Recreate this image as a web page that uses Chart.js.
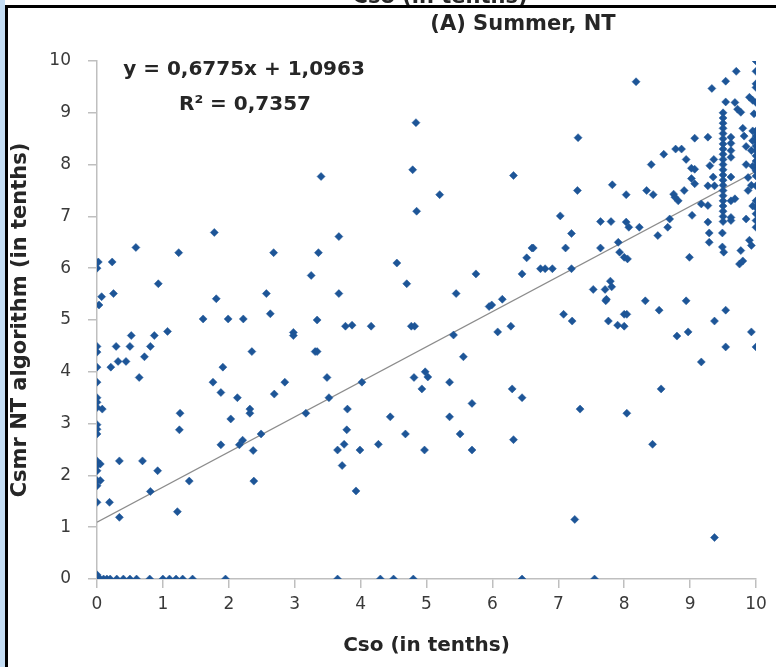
<!DOCTYPE html>
<html>
<head>
<meta charset="utf-8">
<script src="https://cdn.jsdelivr.net/npm/chart.js@4.4.0/dist/chart.umd.min.js"></script>
<style>
  html, body { margin: 0; padding: 0; background: #fff; overflow: hidden; }
  #quadro { position: relative; width: 776px; height: 667px; }
  canvas { display: block; }
  .faixa { position: absolute; left: 0; top: 0; width: 5px; height: 667px; background: #c4ddf4; }
  .linhaEsq { position: absolute; left: 5px; top: 5px; width: 3px; height: 662px; background: #000; }
  .linhaTopo { position: absolute; left: 5px; top: 5px; width: 771px; height: 3px; background: #000; }
</style>
</head>
<body>
<div id="quadro">
  <canvas id="myChart" width="776" height="667"></canvas>
  <div class="faixa"></div>
  <div class="linhaEsq"></div>
  <div class="linhaTopo"></div>
</div>
<script>
// values (Cso, Csmr), in tenths
const csmrAtZeroCso = [6.0, 4.49, 4.38, 4.09, 3.80, 3.50, 3.41, 3.31, 2.98, 2.89, 2.80, 2.28, 2.19, 2.09, 1.90, 1.80, 1.48, 0.08];
const csoAtZeroCsmr = [0, 0.05, 0.1, 0.15, 0.2, 0.3, 0.4, 0.5, 0.6, 0.8, 1.0, 1.1, 1.2, 1.3, 1.45, 1.95, 3.65, 4.3, 4.5, 4.8, 6.45, 7.55];

const pontosEsquerda = [
  [0.02,6.12],[0.07,5.45],[0.03,5.29],[0.08,3.28],[0.05,2.22],[0.05,1.90],
  [0.59,6.40],[1.24,6.30],[1.78,6.69],[2.68,6.30],[3.36,6.30],[0.23,6.12],[0.93,5.70],[3.25,5.86],
  [1.81,5.41],[2.57,5.51],[0.25,5.51],[2.63,5.12],[1.61,5.02],[1.99,5.02],[2.22,5.02],[3.34,5.0],
  [0.52,4.70],[0.87,4.70],[1.07,4.78],[0.29,4.49],[0.50,4.49],[0.81,4.49],[0.72,4.29],[0.32,4.20],
  [0.44,4.20],[0.21,4.09],[0.64,3.89],[2.98,4.76],[2.98,4.70],[2.35,4.39],[3.31,4.39],[3.34,4.39],
  [1.91,4.09],[1.76,3.80],[1.88,3.60],[2.85,3.80],[2.69,3.57],[2.13,3.50],[2.32,3.28],[2.32,3.20],
  [1.26,3.20],[3.17,3.20],[1.25,2.88],[2.03,3.09],[2.49,2.80],[1.88,2.59],[2.16,2.59],[2.21,2.68],
  [2.37,2.48],[0.34,2.28],[0.69,2.28],[0.92,2.09],[1.40,1.89],[2.38,1.89],[0.81,1.69],[0.19,1.48],
  [1.22,1.30],[0.34,1.19]
];

const pontosMeio = [
  [3.40,7.77],[4.84,8.81],[4.79,7.90],[5.20,7.42],[4.85,7.10],[6.32,7.79],[3.67,6.61],[4.55,6.10],
  [4.70,5.70],[3.67,5.51],[5.75,5.89],[5.45,5.51],[5.95,5.26],[5.99,5.29],[6.15,5.40],[6.45,5.89],
  [6.52,6.20],[6.60,6.39],[6.73,5.99],[3.77,4.88],[3.87,4.90],[4.16,4.88],[4.77,4.88],[4.82,4.88],
  [6.08,4.77],[6.28,4.88],[5.41,4.71],[5.56,4.29],[3.49,3.89],[4.02,3.80],[4.81,3.89],[4.98,4.00],
  [5.02,3.90],[4.93,3.67],[5.35,3.80],[6.30,3.67],[6.45,3.50],[3.52,3.50],[3.80,3.28],[5.69,3.39],
  [4.45,3.13],[5.35,3.13],[3.79,2.88],[3.75,2.60],[3.65,2.49],[3.99,2.49],[4.27,2.60],[4.68,2.80],
  [4.97,2.49],[5.51,2.80],[5.69,2.49],[6.32,2.69],[3.72,2.19],[3.93,1.70]
];

const pontosDireita = [
  [7.08,5.11],[7.21,4.98],[7.76,4.98],[7.90,4.90],[8.00,4.88],[8.00,5.11],[8.04,5.11],[7.72,5.37],
  [8.32,5.37],[8.53,5.19],[8.94,5.37],[8.80,4.69],[8.97,4.77],[9.37,4.98],[9.54,5.19],[9.54,4.48],
  [9.93,4.77],[10,4.48],[9.17,4.19],[8.56,3.67],[7.33,3.28],[8.04,3.20],[8.43,2.60],[7.25,1.15],
  [9.37,0.80],
  [8.18,9.60],[9.70,9.80],[9.54,9.61],[9.33,9.47],[9.27,8.53],[9.07,8.51],[8.78,8.30],[8.87,8.30],
  [8.60,8.20],[8.94,8.10],[9.36,8.10],[8.41,8.00],[9.02,7.93],[9.07,7.91],[9.30,7.98],[9.35,7.76],
  [9.02,7.73],[9.07,7.63],[7.30,8.52],[9.27,7.59],[9.37,7.59],[8.91,7.50],[8.75,7.43],[8.77,7.37],
  [8.82,7.30],[8.34,7.50],[8.44,7.42],[7.82,7.61],[8.03,7.42],[7.29,7.50],[9.17,7.24],[9.27,7.21],
  [9.03,7.02],[9.27,6.89],[8.69,6.95],[8.66,6.79],[9.29,6.68],[9.29,6.50],[7.03,7.01],[7.64,6.90],
  [7.80,6.90],[8.03,6.89],[8.07,6.79],[8.23,6.79],[8.51,6.63],[7.20,6.67],[6.62,6.39],[7.11,6.39],
  [7.64,6.39],[7.91,6.50],[7.93,6.31],[8.00,6.21],[8.05,6.18],[8.99,6.21],[6.80,5.99],[6.91,5.99],
  [7.20,5.99],[7.53,5.59],[7.71,5.59],[7.79,5.75],[7.81,5.64],[7.73,5.40]
];

// nuvem densa perto de Cso = 9,5 .. 10
const pontosNuvem = [
  [10,10],[10,9.8],[10,9.56],[10,9.49],[9.54,9.21],[9.68,9.20],[9.72,9.07],[9.77,9.01],[9.90,9.30],
  [9.95,9.24],[10,9.20],[9.97,8.98],
  [9.5,9.0],[9.5,8.9],[9.5,8.8],[9.5,8.7],[9.5,8.6],[9.5,8.5],[9.5,8.4],[9.5,8.3],[9.5,8.2],[9.5,8.1],
  [9.5,8.0],[9.5,7.9],[9.5,7.8],[9.5,7.7],[9.5,7.6],[9.5,7.5],[9.5,7.4],[9.5,7.3],[9.5,7.2],[9.5,7.1],
  [9.5,7.0],[9.5,6.9],[9.49,6.68],
  [9.62,8.53],[9.62,8.41],[9.62,8.27],[9.62,8.14],[9.62,7.76],[9.62,7.30],[9.62,6.98],[9.62,6.92],
  [10,8.65],[10,8.55],[10,8.46],[10,8.36],[10,8.27],[10,8.17],[10,8.07],[10,7.97],[10,7.88],[10,7.78],
  [10,7.59],[10,7.30],[10,7.17],[10,7.05],[10,6.92],[10,6.79],
  [9.80,8.70],[9.82,8.55],[9.85,8.35],[9.85,8.0],[9.88,7.75],[9.88,7.5],[9.85,6.95],[9.95,8.65],
  [9.95,8.46],[9.93,8.27],[9.95,7.97],[9.93,7.6],[9.95,7.2],[9.68,7.34],
  [9.49,6.41],[9.51,6.31],[9.77,6.34],[9.75,6.08],[9.80,6.14],[9.90,6.54],[9.93,6.44]
];

// linha de tendência (equação do gráfico)
const inclinacao = 0.6775;
const intercepto = 1.0963;
const r2 = '0,7357';
const limitesX = [0, 10];

let pontos = [];
for (let i = 0; i < csmrAtZeroCso.length; i++) pontos.push({ x: 0, y: csmrAtZeroCso[i] });
for (let i = 0; i < csoAtZeroCsmr.length; i++) pontos.push({ x: csoAtZeroCsmr[i], y: 0 });
[pontosEsquerda, pontosMeio, pontosDireita, pontosNuvem].forEach(function (grupo) {
  grupo.forEach(function (p) { pontos.push({ x: p[0], y: p[1] }); });
});

const tendencia = limitesX.map(function (x) { return { x: x, y: inclinacao * x + intercepto }; });

const fonte = '"DejaVu Sans", sans-serif';
const corTexto = '#262626';

const decoracao = {
  id: 'decoracao',
  beforeDraw(chart) {
    const ctx = chart.ctx;
    ctx.save();
    ctx.fillStyle = '#ffffff';
    ctx.fillRect(0, 0, chart.width, chart.height);
    ctx.restore();
  },
  afterDraw(chart) {
    const ctx = chart.ctx;
    ctx.save();
    ctx.fillStyle = corTexto;
    ctx.textAlign = 'center';
    ctx.textBaseline = 'middle';
    // título
    ctx.font = 'bold 21px ' + fonte;
    ctx.fillText('(A) Summer, NT', 523, 25);
    // equação
    ctx.font = 'bold 20px ' + fonte;
    ctx.fillText('y = ' + String(inclinacao).replace('.', ',') + 'x + ' + String(intercepto).replace('.', ','), 244, 70);
    ctx.fillText('R² = ' + r2, 245, 105);
    ctx.restore();

    // texto cortado no topo (só a parte de baixo aparece)
    ctx.save();
    ctx.beginPath();
    ctx.rect(0, 0, chart.width, 5);
    ctx.clip();
    ctx.fillStyle = corTexto;
    ctx.font = 'bold 21px ' + fonte;
    ctx.textAlign = 'center';
    ctx.textBaseline = 'alphabetic';
    ctx.fillText('Cso (in tenths)', 440, 3);
    ctx.restore();
  }
};

const dados = {
  datasets: [
    {
      type: 'line',
      label: 'tendência',
      data: tendencia,
      borderColor: '#8c8c8c',
      borderWidth: 1.3,
      pointRadius: 0,
      fill: false,
      order: 2
    },
    {
      type: 'scatter',
      label: 'Csmr',
      data: pontos,
      pointStyle: 'rectRot',
      pointRadius: 4,
      backgroundColor: '#1d5597',
      borderColor: '#1d5597',
      borderWidth: 0.5,
      order: 1
    }
  ]
};

const config = {
  type: 'scatter',
  data: dados,
  options: {
    responsive: false,
    animation: false,
    layout: { padding: { top: 61, right: 20, bottom: 0, left: 0 } },
    plugins: {
      legend: { display: false },
      tooltip: { enabled: false }
    },
    scales: {
      x: {
        type: 'linear',
        min: 0,
        max: 10,
        afterFit: function (s) { s.height = 88; },
        ticks: { stepSize: 1, color: '#3a3a3a', font: { family: fonte, size: 17 }, padding: 6 },
        grid: { drawOnChartArea: false, color: '#bfbfbf', tickLength: 9, lineWidth: 1.5 },
        border: { color: '#bfbfbf', width: 1.5 },
        title: { display: true, text: 'Cso (in tenths)', color: corTexto, font: { family: fonte, size: 20, weight: 'bold' }, padding: { top: 0, bottom: 9 } }
      },
      y: {
        type: 'linear',
        min: 0,
        max: 10,
        afterFit: function (s) { s.width = 97; },
        ticks: { stepSize: 1, color: '#3a3a3a', font: { family: fonte, size: 17 }, padding: 17 },
        grid: { drawOnChartArea: false, color: '#bfbfbf', tickLength: 9, lineWidth: 1.5 },
        border: { color: '#bfbfbf', width: 1.5 },
        title: { display: true, text: 'Csmr NT algorithm (in tenths)', color: corTexto, font: { family: fonte, size: 21, weight: 'bold' }, padding: { top: 8, bottom: 0 } }
      }
    }
  },
  plugins: [decoracao]
};

let myChart = new Chart(document.getElementById('myChart'), config);
</script>
</body>
</html>
